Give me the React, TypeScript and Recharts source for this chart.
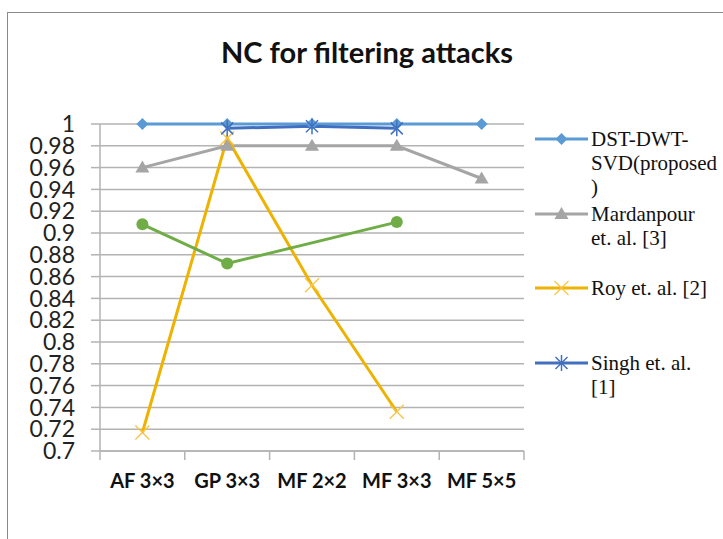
import { CartesianGrid, Line, LineChart, XAxis, YAxis } from 'recharts'

const categories = ['AF 3×3', 'GP 3×3', 'MF 2×2', 'MF 3×3', 'MF 5×5']
const proposed = [1, 1, 1, 1, 1]
const mardanpour = [0.96, 0.98, 0.98, 0.98, 0.95]
const roy = [0.717, 0.987, 0.852, 0.736, null]
const singh = [null, 0.996, 0.998, 0.996, null]
const unlabelled = [0.908, 0.872, null, 0.91, null]
const yTicks = [0.7, 0.72, 0.74, 0.76, 0.78, 0.8, 0.82, 0.84, 0.86, 0.88, 0.9, 0.92, 0.94, 0.96, 0.98, 1]

const legendKeys = ['proposed', 'mardanpour', 'roy', 'singh']
const legendLines = [
  ['DST-DWT-', 'SVD(proposed', ')'],
  ['Mardanpour', 'et. al. [3]'],
  ['Roy et. al. [2]'],
  ['Singh et. al.', '[1]'],
]
const legendKinds = ['diamond', 'triangle', 'cross', 'star']

const data = categories.map((name, i) => ({
  name,
  proposed: proposed[i],
  mardanpour: mardanpour[i],
  roy: roy[i],
  singh: singh[i],
  unlabelled: unlabelled[i],
}))

const W = 723
const H = 539
const PLOT_LEFT = 100
const PLOT_RIGHT = 524
const PLOT_TOP = 124
const PLOT_BOTTOM = 451
const BAND = (PLOT_RIGHT - PLOT_LEFT) / categories.length
const GRID = '#b3b3b3'
const SANS = 'Lato, "Open Sans", sans-serif'

const COLORS: Record<string, string> = {
  proposed: '#5b9bd5',
  mardanpour: '#a5a5a5',
  roy: '#eeb200',
  royMark: '#f7c545',
  singh: '#4170c0',
  unlabelled: '#70ad47',
}

function Marker({ kind, cx, cy, color }: { kind: string; cx: number; cy: number; color: string }) {
  if (kind === 'diamond') {
    return <polygon points={`${cx},${cy - 6} ${cx + 6},${cy} ${cx},${cy + 6} ${cx - 6},${cy}`} fill={color} />
  }
  if (kind === 'triangle') {
    return <polygon points={`${cx},${cy - 7} ${cx + 7},${cy + 5} ${cx - 7},${cy + 5}`} fill={color} />
  }
  if (kind === 'cross') {
    return (
      <g stroke={color} strokeWidth={1.3}>
        <line x1={cx - 7} y1={cy - 7} x2={cx + 7} y2={cy + 7} />
        <line x1={cx - 7} y1={cy + 7} x2={cx + 7} y2={cy - 7} />
      </g>
    )
  }
  if (kind === 'star') {
    return (
      <g stroke={color} strokeWidth={1.5}>
        <line x1={cx - 6} y1={cy - 6} x2={cx + 6} y2={cy + 6} />
        <line x1={cx - 6} y1={cy + 6} x2={cx + 6} y2={cy - 6} />
        <line x1={cx} y1={cy - 8} x2={cx} y2={cy + 8} />
      </g>
    )
  }
  return <circle cx={cx} cy={cy} r={6} fill={color} />
}

const dotOf = (kind: string, color: string) => (p: any) => {
  if (p.cy == null || p.value == null) return <g key={p.index} />
  return <Marker key={p.index} kind={kind} cx={p.cx} cy={p.cy} color={color} />
}

function XTick({ x, y, payload, index }: any) {
  const last = index === categories.length - 1
  return (
    <g>
      <line x1={x - BAND / 2} x2={x - BAND / 2} y1={PLOT_BOTTOM} y2={PLOT_BOTTOM + 9} stroke={GRID} strokeWidth={1.5} />
      {last && <line x1={x + BAND / 2} x2={x + BAND / 2} y1={PLOT_BOTTOM} y2={PLOT_BOTTOM + 9} stroke={GRID} strokeWidth={1.5} />}
      <text x={x} y={y} dy="0.71em" textAnchor="middle" fontFamily={SANS} fontWeight="bold" fontSize={20} fill="#111">
        {payload.value}
      </text>
    </g>
  )
}

function LegendBox() {
  return (
    <div style={{ position: 'absolute', left: 533, top: 127, width: 190, height: 300 }}>
      {legendKeys.map((key, i) => {
        const color = COLORS[key]
        const markColor = key === 'roy' ? COLORS.royMark : color
        return (
          <div key={key} style={{ position: 'absolute', left: 0, top: i * 74.6, width: 190 }}>
            <svg width={56} height={24} style={{ position: 'absolute', left: 0, top: 0 }}>
              <line x1={2} x2={55} y1={12} y2={12} stroke={color} strokeWidth={3} />
              <Marker kind={legendKinds[i]} cx={28.5} cy={12} color={markColor} />
            </svg>
            <div
              style={{
                position: 'absolute',
                left: 58,
                top: 0,
                fontFamily: '"Liberation Serif", "Times New Roman", serif',
                fontSize: 21,
                lineHeight: '24px',
                color: '#111',
                whiteSpace: 'nowrap',
              }}
            >
              {legendLines[i].map((ln) => (
                <div key={ln}>{ln}</div>
              ))}
            </div>
          </div>
        )
      })}
    </div>
  )
}

export default function App() {
  return (
    <div style={{ position: 'absolute', left: 0, top: 0, width: W, height: H, overflow: 'hidden', background: '#fff' }}>
      <div
        style={{
          position: 'absolute',
          left: 7,
          top: 12,
          width: W + 20,
          height: H + 20,
          border: '1px solid #8a8a8a',
        }}
      />
      <div
        style={{
          position: 'absolute',
          left: 0,
          width: 734,
          top: 34,
          textAlign: 'center',
          fontFamily: SANS,
          fontWeight: 'bold',
          fontSize: 29,
          lineHeight: '36px',
          color: '#111',
        }}
      >
        NC for filtering attacks
      </div>
      <div style={{ position: 'absolute', left: 0, top: 0 }}>
        <LineChart
          width={W}
          height={H}
          data={data}
          margin={{ top: PLOT_TOP, right: W - PLOT_RIGHT, bottom: 0, left: 0 }}
        >
          <CartesianGrid vertical={false} stroke={GRID} strokeWidth={1.5} />
          <XAxis
            dataKey="name"
            height={H - PLOT_BOTTOM}
            padding={{ left: BAND / 2, right: BAND / 2 }}
            axisLine={{ stroke: GRID, strokeWidth: 1.5 }}
            tickLine={false}
            tickSize={9}
            tickMargin={14}
            tick={<XTick />}
            interval={0}
          />
          <YAxis
            width={PLOT_LEFT}
            domain={[0.7, 1]}
            ticks={yTicks}
            interval={0}
            axisLine={{ stroke: GRID, strokeWidth: 1.5 }}
            tickLine={{ stroke: GRID, strokeWidth: 1.5 }}
            tickSize={9}
            tickMargin={16}
            tick={{ fontFamily: SANS, fontSize: 23, fill: '#222' }}
          />
          <Line
            dataKey="proposed"
            name="DST-DWT-SVD(proposed)"
            stroke={COLORS.proposed}
            strokeWidth={3}
            dot={dotOf('diamond', COLORS.proposed)}
            activeDot={false}
            isAnimationActive={false}
          />
          <Line
            dataKey="mardanpour"
            name="Mardanpour et. al. [3]"
            stroke={COLORS.mardanpour}
            strokeWidth={3}
            dot={dotOf('triangle', COLORS.mardanpour)}
            activeDot={false}
            isAnimationActive={false}
          />
          <Line
            dataKey="roy"
            name="Roy et. al. [2]"
            stroke={COLORS.roy}
            strokeWidth={3}
            dot={dotOf('cross', COLORS.royMark)}
            activeDot={false}
            isAnimationActive={false}
          />
          <Line
            dataKey="singh"
            name="Singh et. al. [1]"
            stroke={COLORS.singh}
            strokeWidth={3}
            dot={dotOf('star', COLORS.singh)}
            activeDot={false}
            isAnimationActive={false}
          />
          <Line
            dataKey="unlabelled"
            name="unlabelled"
            stroke={COLORS.unlabelled}
            strokeWidth={3}
            connectNulls
            dot={dotOf('circle', COLORS.unlabelled)}
            activeDot={false}
            isAnimationActive={false}
          />
        </LineChart>
      </div>
      <LegendBox />
    </div>
  )
}
